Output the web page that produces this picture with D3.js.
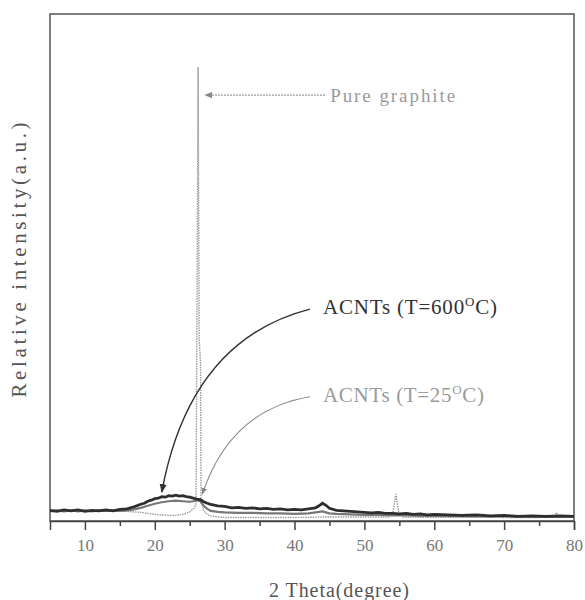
<!DOCTYPE html>
<html>
<head>
<meta charset="utf-8">
<script src="https://cdn.jsdelivr.net/npm/d3@7"></script>
<style>
  body { margin: 0; background: #fff; }
  text { font-family: "Liberation Serif", "Times New Roman", serif; }
</style>
</head>
<body>
<div id="chart"></div>
<script>
// XRD patterns: [2 theta, relative intensity]
const acnt600 = [
  [5,2.1],[6,1.9],[7,2.2],[8,2.0],[9,2.2],[10,1.9],[11,2.1],[12,2.0],[13,2.2],[14,2.0],
  [15,2.3],[16,2.4],[17,2.8],[18,3.3],[18.5,3.5],[19,3.9],[19.5,4.1],[20,4.4],[20.5,4.5],
  [21,4.8],[21.5,4.7],[22,5.0],[22.5,4.9],[23,5.1],[23.5,4.9],[24,5.0],[24.5,4.8],[25,4.7],
  [25.5,4.5],[26,4.3],[26.5,4.2],[27,3.8],[27.5,3.5],[28,3.3],[29,3.0],[30,2.9],[31,2.6],
  [32,2.7],[33,2.5],[34,2.6],[35,2.4],[36,2.5],[37,2.3],[38,2.4],[39,2.2],[40,2.3],[41,2.2],
  [42,2.4],[43,2.6],[43.5,3.0],[44,3.5],[44.5,3.1],[45,2.5],[46,2.1],[47,2.0],[48,1.9],
  [49,1.8],[50,1.7],[51,1.6],[52,1.7],[53,1.5],[54,1.5],[55,1.4],[56,1.5],[57,1.3],[58,1.4],
  [59,1.2],[60,1.3],[62,1.2],[64,1.1],[66,1.2],[68,1.0],[70,1.1],[72,0.9],[74,1.0],[76,0.9],
  [78,1.0],[80,0.9]
];
const acnt25 = [
  [5,1.9],[6,2.1],[7,1.9],[8,2.1],[9,1.9],[10,2.1],[11,1.9],[12,2.1],[13,2.0],[14,2.1],
  [15,2.0],[16,2.1],[17,2.3],[18,2.6],[19,3.0],[20,3.4],[21,3.7],[22,3.9],[23,4.0],[24,3.9],
  [25,3.8],[25.5,3.9],[26,4.1],[26.5,3.9],[27,3.0],[27.5,2.4],[28,2.0],[29,1.8],[30,1.7],
  [32,1.6],[34,1.6],[36,1.5],[38,1.5],[40,1.4],[42,1.5],[44,1.9],[45,1.5],[46,1.4],[48,1.3],
  [50,1.2],[52,1.2],[54,1.1],[56,1.1],[58,1.0],[60,1.0],[65,0.9],[70,0.9],[75,0.8],[80,0.8]
];
const graphite = [
  [5,1.9],[8,2.0],[10,1.9],[12,2.0],[14,1.9],[16,1.9],[17,1.8],[18,1.7],[19,1.5],[20,1.3],
  [21,1.2],[22,1.1],[23,1.1],[24,1.3],[25,1.8],[25.6,2.5],[25.9,3.3],[26.0,30],[26.2,89.5],
  [26.35,36],[26.55,31],[26.62,4],[27,2.0],[27.5,1.3],[28,1.0],[29,0.8],[30,0.7],[35,0.7],
  [40,0.7],[45,0.8],[50,0.8],[53.5,0.8],[54.1,1.8],[54.5,5.3],[54.9,1.8],[55.5,0.8],[60,0.7],
  [65,0.8],[70,0.7],[75,0.7],[77.2,0.8],[77.5,1.7],[77.8,0.8],[80,0.7]
];

const majorTicks = [10, 20, 30, 40, 50, 60, 70, 80];
const minorTicks = [15, 25, 35, 45, 55, 65, 75];

const serif = "'Liberation Serif', 'Times New Roman', serif";
const width = 585, height = 600;
const margin = { top: 14, right: 11, bottom: 79, left: 50 };

const svg = d3.select("#chart")
  .append("svg")
  .attr("width", width)
  .attr("height", height)
  .style("font-family", serif);

const x = d3.scaleLinear()
  .domain([5, 80])
  .range([margin.left, width - margin.right]);

const y = d3.scaleLinear()
  .domain([0, 100])
  .range([height - margin.bottom, margin.top]);

const defs = svg.append("defs");
function arrowHead(id, color, size) {
  defs.append("marker")
    .attr("id", id)
    .attr("viewBox", "0 0 10 10")
    .attr("refX", 9).attr("refY", 5)
    .attr("markerWidth", size).attr("markerHeight", size)
    .attr("markerUnits", "userSpaceOnUse")
    .attr("orient", "auto")
    .append("path")
    .attr("d", "M0,1 L10,5 L0,9 Z")
    .attr("fill", color);
}
arrowHead("a600", "#333", 9);
arrowHead("a25", "#888", 7);
arrowHead("agr", "#888", 8);

// frame
svg.append("rect")
  .attr("x", x(5)).attr("y", y(100))
  .attr("width", x(80) - x(5)).attr("height", y(0) - y(100))
  .attr("fill", "none")
  .attr("stroke", "#555")
  .attr("stroke-width", 1.5);

// bottom axis: minor then major ticks
svg.append("g")
  .attr("transform", `translate(0,${y(0)})`)
  .call(d3.axisBottom(x).tickValues(minorTicks).tickSize(5).tickFormat(""))
  .call(g => g.select(".domain").remove())
  .call(g => g.selectAll("line").attr("stroke", "#444").attr("stroke-width", 1.5));

svg.append("g")
  .attr("transform", `translate(0,${y(0)})`)
  .call(d3.axisBottom(x).tickValues(majorTicks).tickSize(9).tickPadding(9).tickFormat(d3.format("d")))
  .call(g => g.select(".domain").attr("stroke", "#444").attr("stroke-width", 1.5))
  .call(g => g.selectAll("line").attr("stroke", "#444").attr("stroke-width", 1.5))
  .call(g => g.selectAll("text")
    .attr("font-family", serif)
    .attr("font-size", 17)
    .attr("fill", "#777"));

const line = d3.line()
  .x(d => x(d[0]))
  .y(d => y(d[1]));

svg.append("path")
  .datum(graphite)
  .attr("d", line)
  .attr("fill", "none")
  .attr("stroke", "#9a9a9a")
  .attr("stroke-width", 1.4)
  .attr("stroke-dasharray", "1.5,1");

svg.append("path")
  .datum(acnt25)
  .attr("d", line)
  .attr("fill", "none")
  .attr("stroke", "#777")
  .attr("stroke-width", 2.2);

svg.append("path")
  .datum(acnt600)
  .attr("d", line)
  .attr("fill", "none")
  .attr("stroke", "#2e2e2e")
  .attr("stroke-width", 2.8);

// annotations
svg.append("line")
  .attr("x1", x(44.36)).attr("y1", y(84))
  .attr("x2", x(27.2)).attr("y2", y(84))
  .attr("stroke", "#999")
  .attr("stroke-width", 1.2)
  .attr("stroke-dasharray", "2,1")
  .attr("marker-end", "url(#agr)");

svg.append("text")
  .attr("x", x(45.1)).attr("y", y(82.6))
  .attr("font-family", serif)
  .attr("font-size", 19)
  .attr("fill", "#9a9a9a")
  .attr("textLength", 125)
  .attr("lengthAdjust", "spacing")
  .text("Pure graphite");

function curve(p0, c, p1) {
  const p = d3.path();
  p.moveTo(x(p0[0]), y(p0[1]));
  p.quadraticCurveTo(x(c[0]), y(c[1]), x(p1[0]), y(p1[1]));
  return p.toString();
}

svg.append("path")
  .attr("d", curve([42.2, 41.8], [25.0, 35.7], [21.0, 5.7]))
  .attr("fill", "none")
  .attr("stroke", "#333")
  .attr("stroke-width", 1.4)
  .attr("marker-end", "url(#a600)");

svg.append("path")
  .attr("d", curve([42.2, 24.5], [30.8, 21.9], [26.8, 5.3]))
  .attr("fill", "none")
  .attr("stroke", "#888")
  .attr("stroke-width", 1.1)
  .attr("marker-end", "url(#a25)");

function label(tx, ty, pre, temp, color, len) {
  const t = svg.append("text")
    .attr("x", x(tx)).attr("y", y(ty))
    .attr("font-family", serif)
    .attr("font-size", 21)
    .attr("fill", color)
    .attr("textLength", len)
    .attr("lengthAdjust", "spacing");
  t.append("tspan").text(pre + temp);
  t.append("tspan").attr("dy", -8).attr("font-size", 13).text("O");
  t.append("tspan").attr("dy", 8).text("C)");
}
label(44.07, 40.8, "ACNTs (T=", "600", "#333", 174);
label(44.07, 23.5, "ACNTs (T=", "25", "#9a9a9a", 161);

// axis titles
svg.append("text")
  .attr("x", 339).attr("y", 597)
  .attr("text-anchor", "middle")
  .attr("font-family", serif)
  .attr("font-size", 20)
  .attr("fill", "#555")
  .attr("textLength", 140)
  .attr("lengthAdjust", "spacing")
  .text("2 Theta(degree)");

svg.append("text")
  .attr("transform", "translate(26,260) rotate(-90)")
  .attr("text-anchor", "middle")
  .attr("font-family", serif)
  .attr("font-size", 21)
  .attr("fill", "#555")
  .attr("textLength", 275)
  .attr("lengthAdjust", "spacing")
  .text("Relative intensity(a.u.)");
</script>
</body>
</html>
